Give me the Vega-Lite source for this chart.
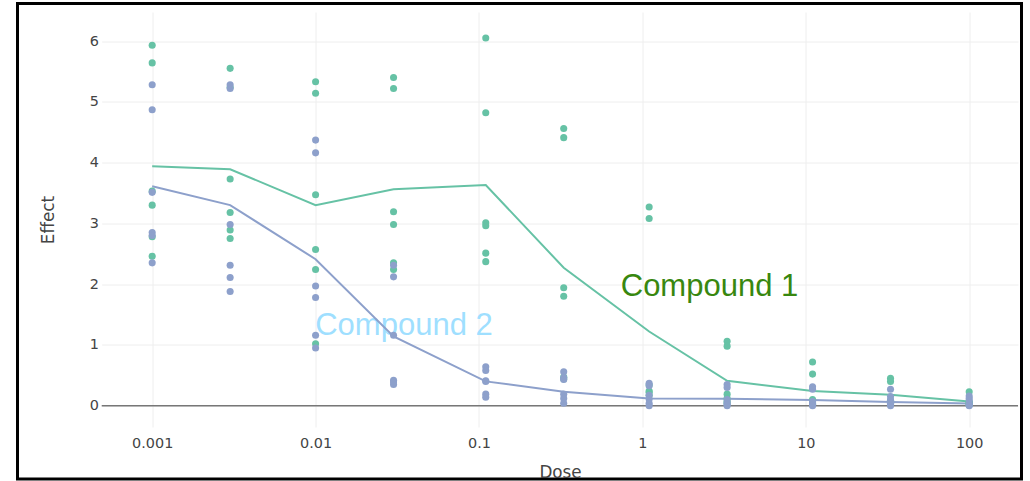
{
  "$schema": "https://vega.github.io/schema/vega-lite/v6.json",
  "width": 1004,
  "height": 475.5,
  "autosize": {"type": "none"},
  "padding": {"left": 17.5, "top": 3.5, "right": 8.5, "bottom": 2},
  "background": "white",
  "config": {
    "view": {"stroke": "#000000", "strokeWidth": 3, "fill": "white"}
  },
  "datasets": {
    "points": [
      {"dose": 0.001, "effect": 5.93, "compound": "Compound 1"},
      {"dose": 0.001, "effect": 5.64, "compound": "Compound 1"},
      {"dose": 0.001, "effect": 3.53, "compound": "Compound 1"},
      {"dose": 0.001, "effect": 3.30, "compound": "Compound 1"},
      {"dose": 0.001, "effect": 2.78, "compound": "Compound 1"},
      {"dose": 0.001, "effect": 2.46, "compound": "Compound 1"},
      {"dose": 0.003, "effect": 5.55, "compound": "Compound 1"},
      {"dose": 0.003, "effect": 5.24, "compound": "Compound 1"},
      {"dose": 0.003, "effect": 3.73, "compound": "Compound 1"},
      {"dose": 0.003, "effect": 3.18, "compound": "Compound 1"},
      {"dose": 0.003, "effect": 2.89, "compound": "Compound 1"},
      {"dose": 0.003, "effect": 2.75, "compound": "Compound 1"},
      {"dose": 0.01, "effect": 5.33, "compound": "Compound 1"},
      {"dose": 0.01, "effect": 5.14, "compound": "Compound 1"},
      {"dose": 0.01, "effect": 3.47, "compound": "Compound 1"},
      {"dose": 0.01, "effect": 2.57, "compound": "Compound 1"},
      {"dose": 0.01, "effect": 2.24, "compound": "Compound 1"},
      {"dose": 0.01, "effect": 1.02, "compound": "Compound 1"},
      {"dose": 0.03, "effect": 5.40, "compound": "Compound 1"},
      {"dose": 0.03, "effect": 5.22, "compound": "Compound 1"},
      {"dose": 0.03, "effect": 3.19, "compound": "Compound 1"},
      {"dose": 0.03, "effect": 2.98, "compound": "Compound 1"},
      {"dose": 0.03, "effect": 2.35, "compound": "Compound 1"},
      {"dose": 0.03, "effect": 2.24, "compound": "Compound 1"},
      {"dose": 0.11, "effect": 6.05, "compound": "Compound 1"},
      {"dose": 0.11, "effect": 4.82, "compound": "Compound 1"},
      {"dose": 0.11, "effect": 3.01, "compound": "Compound 1"},
      {"dose": 0.11, "effect": 2.96, "compound": "Compound 1"},
      {"dose": 0.11, "effect": 2.51, "compound": "Compound 1"},
      {"dose": 0.11, "effect": 2.37, "compound": "Compound 1"},
      {"dose": 0.33, "effect": 4.56, "compound": "Compound 1"},
      {"dose": 0.33, "effect": 4.41, "compound": "Compound 1"},
      {"dose": 0.33, "effect": 1.94, "compound": "Compound 1"},
      {"dose": 0.33, "effect": 1.80, "compound": "Compound 1"},
      {"dose": 0.33, "effect": 0.47, "compound": "Compound 1"},
      {"dose": 0.33, "effect": 0.44, "compound": "Compound 1"},
      {"dose": 1.1, "effect": 3.27, "compound": "Compound 1"},
      {"dose": 1.1, "effect": 3.08, "compound": "Compound 1"},
      {"dose": 1.1, "effect": 0.34, "compound": "Compound 1"},
      {"dose": 1.1, "effect": 0.24, "compound": "Compound 1"},
      {"dose": 1.1, "effect": 0.22, "compound": "Compound 1"},
      {"dose": 1.1, "effect": 0.17, "compound": "Compound 1"},
      {"dose": 3.3, "effect": 1.06, "compound": "Compound 1"},
      {"dose": 3.3, "effect": 0.98, "compound": "Compound 1"},
      {"dose": 3.3, "effect": 0.19, "compound": "Compound 1"},
      {"dose": 3.3, "effect": 0.12, "compound": "Compound 1"},
      {"dose": 3.3, "effect": 0.07, "compound": "Compound 1"},
      {"dose": 3.3, "effect": 0.04, "compound": "Compound 1"},
      {"dose": 11, "effect": 0.72, "compound": "Compound 1"},
      {"dose": 11, "effect": 0.52, "compound": "Compound 1"},
      {"dose": 11, "effect": 0.10, "compound": "Compound 1"},
      {"dose": 11, "effect": 0.05, "compound": "Compound 1"},
      {"dose": 11, "effect": 0.03, "compound": "Compound 1"},
      {"dose": 11, "effect": 0.02, "compound": "Compound 1"},
      {"dose": 33, "effect": 0.45, "compound": "Compound 1"},
      {"dose": 33, "effect": 0.40, "compound": "Compound 1"},
      {"dose": 33, "effect": 0.09, "compound": "Compound 1"},
      {"dose": 33, "effect": 0.07, "compound": "Compound 1"},
      {"dose": 33, "effect": 0.04, "compound": "Compound 1"},
      {"dose": 33, "effect": 0.03, "compound": "Compound 1"},
      {"dose": 100, "effect": 0.23, "compound": "Compound 1"},
      {"dose": 100, "effect": 0.06, "compound": "Compound 1"},
      {"dose": 100, "effect": 0.05, "compound": "Compound 1"},
      {"dose": 100, "effect": 0.04, "compound": "Compound 1"},
      {"dose": 100, "effect": 0.03, "compound": "Compound 1"},
      {"dose": 100, "effect": 0.01, "compound": "Compound 1"},
      {"dose": 0.001, "effect": 5.28, "compound": "Compound 2"},
      {"dose": 0.001, "effect": 4.87, "compound": "Compound 2"},
      {"dose": 0.001, "effect": 3.51, "compound": "Compound 2"},
      {"dose": 0.001, "effect": 2.85, "compound": "Compound 2"},
      {"dose": 0.001, "effect": 2.80, "compound": "Compound 2"},
      {"dose": 0.001, "effect": 2.35, "compound": "Compound 2"},
      {"dose": 0.003, "effect": 5.28, "compound": "Compound 2"},
      {"dose": 0.003, "effect": 5.22, "compound": "Compound 2"},
      {"dose": 0.003, "effect": 2.98, "compound": "Compound 2"},
      {"dose": 0.003, "effect": 2.31, "compound": "Compound 2"},
      {"dose": 0.003, "effect": 2.11, "compound": "Compound 2"},
      {"dose": 0.003, "effect": 1.88, "compound": "Compound 2"},
      {"dose": 0.01, "effect": 4.37, "compound": "Compound 2"},
      {"dose": 0.01, "effect": 4.16, "compound": "Compound 2"},
      {"dose": 0.01, "effect": 1.97, "compound": "Compound 2"},
      {"dose": 0.01, "effect": 1.78, "compound": "Compound 2"},
      {"dose": 0.01, "effect": 1.16, "compound": "Compound 2"},
      {"dose": 0.01, "effect": 0.95, "compound": "Compound 2"},
      {"dose": 0.03, "effect": 2.31, "compound": "Compound 2"},
      {"dose": 0.03, "effect": 2.12, "compound": "Compound 2"},
      {"dose": 0.03, "effect": 1.16, "compound": "Compound 2"},
      {"dose": 0.03, "effect": 0.42, "compound": "Compound 2"},
      {"dose": 0.03, "effect": 0.39, "compound": "Compound 2"},
      {"dose": 0.03, "effect": 0.35, "compound": "Compound 2"},
      {"dose": 0.11, "effect": 0.64, "compound": "Compound 2"},
      {"dose": 0.11, "effect": 0.58, "compound": "Compound 2"},
      {"dose": 0.11, "effect": 0.41, "compound": "Compound 2"},
      {"dose": 0.11, "effect": 0.40, "compound": "Compound 2"},
      {"dose": 0.11, "effect": 0.19, "compound": "Compound 2"},
      {"dose": 0.11, "effect": 0.14, "compound": "Compound 2"},
      {"dose": 0.33, "effect": 0.56, "compound": "Compound 2"},
      {"dose": 0.33, "effect": 0.46, "compound": "Compound 2"},
      {"dose": 0.33, "effect": 0.43, "compound": "Compound 2"},
      {"dose": 0.33, "effect": 0.19, "compound": "Compound 2"},
      {"dose": 0.33, "effect": 0.12, "compound": "Compound 2"},
      {"dose": 0.33, "effect": 0.04, "compound": "Compound 2"},
      {"dose": 1.1, "effect": 0.37, "compound": "Compound 2"},
      {"dose": 1.1, "effect": 0.33, "compound": "Compound 2"},
      {"dose": 1.1, "effect": 0.17, "compound": "Compound 2"},
      {"dose": 1.1, "effect": 0.11, "compound": "Compound 2"},
      {"dose": 1.1, "effect": 0.04, "compound": "Compound 2"},
      {"dose": 1.1, "effect": 0.0, "compound": "Compound 2"},
      {"dose": 3.3, "effect": 0.35, "compound": "Compound 2"},
      {"dose": 3.3, "effect": 0.30, "compound": "Compound 2"},
      {"dose": 3.3, "effect": 0.10, "compound": "Compound 2"},
      {"dose": 3.3, "effect": 0.05, "compound": "Compound 2"},
      {"dose": 3.3, "effect": 0.02, "compound": "Compound 2"},
      {"dose": 3.3, "effect": 0.0, "compound": "Compound 2"},
      {"dose": 11, "effect": 0.31, "compound": "Compound 2"},
      {"dose": 11, "effect": 0.27, "compound": "Compound 2"},
      {"dose": 11, "effect": 0.07, "compound": "Compound 2"},
      {"dose": 11, "effect": 0.04, "compound": "Compound 2"},
      {"dose": 11, "effect": 0.02, "compound": "Compound 2"},
      {"dose": 11, "effect": 0.0, "compound": "Compound 2"},
      {"dose": 33, "effect": 0.27, "compound": "Compound 2"},
      {"dose": 33, "effect": 0.15, "compound": "Compound 2"},
      {"dose": 33, "effect": 0.09, "compound": "Compound 2"},
      {"dose": 33, "effect": 0.04, "compound": "Compound 2"},
      {"dose": 33, "effect": 0.02, "compound": "Compound 2"},
      {"dose": 33, "effect": 0.0, "compound": "Compound 2"},
      {"dose": 100, "effect": 0.16, "compound": "Compound 2"},
      {"dose": 100, "effect": 0.12, "compound": "Compound 2"},
      {"dose": 100, "effect": 0.08, "compound": "Compound 2"},
      {"dose": 100, "effect": 0.03, "compound": "Compound 2"},
      {"dose": 100, "effect": 0.01, "compound": "Compound 2"},
      {"dose": 100, "effect": 0.0, "compound": "Compound 2"}
    ],
    "means": [
      {"dose": 0.001, "effect": 3.94, "compound": "Compound 1"},
      {"dose": 0.003, "effect": 3.89, "compound": "Compound 1"},
      {"dose": 0.01, "effect": 3.30, "compound": "Compound 1"},
      {"dose": 0.03, "effect": 3.56, "compound": "Compound 1"},
      {"dose": 0.11, "effect": 3.63, "compound": "Compound 1"},
      {"dose": 0.33, "effect": 2.27, "compound": "Compound 1"},
      {"dose": 1.1, "effect": 1.22, "compound": "Compound 1"},
      {"dose": 3.3, "effect": 0.41, "compound": "Compound 1"},
      {"dose": 11, "effect": 0.24, "compound": "Compound 1"},
      {"dose": 33, "effect": 0.18, "compound": "Compound 1"},
      {"dose": 100, "effect": 0.07, "compound": "Compound 1"},
      {"dose": 0.001, "effect": 3.61, "compound": "Compound 2"},
      {"dose": 0.003, "effect": 3.30, "compound": "Compound 2"},
      {"dose": 0.01, "effect": 2.41, "compound": "Compound 2"},
      {"dose": 0.03, "effect": 1.14, "compound": "Compound 2"},
      {"dose": 0.11, "effect": 0.40, "compound": "Compound 2"},
      {"dose": 0.33, "effect": 0.23, "compound": "Compound 2"},
      {"dose": 1.1, "effect": 0.12, "compound": "Compound 2"},
      {"dose": 3.3, "effect": 0.115, "compound": "Compound 2"},
      {"dose": 11, "effect": 0.095, "compound": "Compound 2"},
      {"dose": 33, "effect": 0.06, "compound": "Compound 2"},
      {"dose": 100, "effect": 0.035, "compound": "Compound 2"}
    ],
    "labels": [
      {"label": "Compound 1", "dose": 2.574, "effect": 1.805},
      {"label": "Compound 2", "dose": 0.03475, "effect": 1.171}
    ]
  },
  "layer": [
    {
      "data": {"name": "points"},
      "mark": {"type": "point", "opacity": 0},
      "encoding": {
        "x": {
          "field": "dose", "type": "quantitative",
          "scale": {"type": "log", "domain": [0.00014987, 208.97], "nice": false, "zero": false},
          "axis": {
            "title": "Dose",
            "values": [0.001, 0.01, 0.1, 1, 10, 100],
            "format": "~g",
            "orient": "bottom",
            "offset": -52,
            "domain": false,
            "grid": false,
            "ticks": true,
            "tickSize": -415,
            "tickColor": "#eeeeee",
            "tickWidth": 1,
            "labelPadding": 424,
            "labelFont": "DejaVu Sans",
            "labelFontSize": 14.4,
            "labelColor": "#444444",
            "labelFlush": false,
            "labelOverlap": false,
            "titleFont": "DejaVu Sans",
            "titleFontSize": 16.8,
            "titleFontWeight": "normal",
            "titleColor": "#444444",
            "titleX": 542.5,
            "titleY": 50,
            "titleBaseline": "alphabetic",
            "titleAlign": "center"
          }
        },
        "y": {
          "field": "effect", "type": "quantitative",
          "scale": {"domain": [-1.206, 6.6173], "nice": false, "zero": false},
          "axis": {
            "title": "Effect",
            "values": [0, 1, 2, 3, 4, 5, 6],
            "format": "d",
            "orient": "left",
            "offset": -84.2,
            "domain": false,
            "grid": false,
            "ticks": true,
            "tickSize": -916.3,
            "tickColor": "#eeeeee",
            "tickWidth": 1,
            "labelPadding": 919.5,
            "labelFont": "DejaVu Sans",
            "labelFontSize": 14.4,
            "labelColor": "#444444",
            "labelFlush": false,
            "labelOverlap": false,
            "titleFont": "DejaVu Sans",
            "titleFontSize": 16.8,
            "titleFontWeight": "normal",
            "titleColor": "#444444",
            "titleX": -47.7,
            "titleY": 216,
            "titleAngle": -90,
            "titleBaseline": "alphabetic",
            "titleAlign": "center"
          }
        }
      }
    },
    {
      "data": {"values": [{}]},
      "mark": {"type": "rule", "color": "#777777", "strokeWidth": 1.5},
      "encoding": {
        "x": {"datum": 0.000491, "type": "quantitative"},
        "x2": {"datum": 198.9},
        "y": {"datum": 0, "type": "quantitative"}
      }
    },
    {
      "data": {"name": "labels"},
      "transform": [{"filter": "datum.label === 'Compound 2'"}],
      "mark": {"type": "text", "font": "Liberation Sans", "fontSize": 31, "color": "#9fdfff", "align": "center", "baseline": "alphabetic"},
      "encoding": {
        "x": {"field": "dose", "type": "quantitative"},
        "y": {"field": "effect", "type": "quantitative"},
        "text": {"field": "label"}
      }
    },
    {
      "data": {"name": "labels"},
      "transform": [{"filter": "datum.label === 'Compound 1'"}],
      "mark": {"type": "text", "font": "Liberation Sans", "fontSize": 31, "color": "#38870f", "align": "center", "baseline": "alphabetic"},
      "encoding": {
        "x": {"field": "dose", "type": "quantitative"},
        "y": {"field": "effect", "type": "quantitative"},
        "text": {"field": "label"}
      }
    },
    {
      "data": {"name": "means"},
      "mark": {"type": "line", "strokeWidth": 2},
      "encoding": {
        "x": {"field": "dose", "type": "quantitative"},
        "y": {"field": "effect", "type": "quantitative"},
        "color": {
          "field": "compound", "type": "nominal",
          "scale": {"domain": ["Compound 1", "Compound 2"], "range": ["#66c2a5", "#8da0cb"]},
          "legend": null
        },
        "order": {"field": "dose", "type": "quantitative"}
      }
    },
    {
      "data": {"name": "points"},
      "mark": {"type": "circle", "size": 50, "opacity": 1},
      "encoding": {
        "x": {"field": "dose", "type": "quantitative"},
        "y": {"field": "effect", "type": "quantitative"},
        "color": {"field": "compound", "type": "nominal", "legend": null},
        "order": {"field": "compound", "type": "nominal"}
      }
    }
  ]
}
